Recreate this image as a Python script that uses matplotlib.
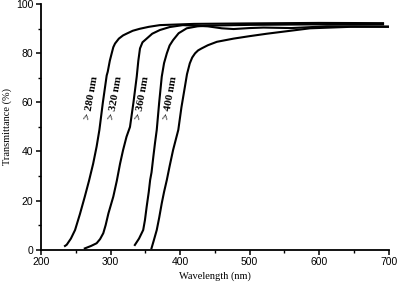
import numpy as np
import matplotlib
matplotlib.use("Agg")
import matplotlib.pyplot as plt
from matplotlib.ticker import MultipleLocator

# --- data (wavelength nm, transmittance %) ---
wl_280 = [234.5, 237, 243, 249, 256, 263, 269, 275, 280, 284, 289, 294.5, 296, 299, 301.7, 304, 306.5, 312, 318, 323, 332, 342, 355, 371, 420, 500, 600, 692]
t_280 = [1.5, 2.0, 4.5, 8.0, 14.5, 21.6, 28.0, 35.0, 42.0, 48.8, 60.0, 71.0, 72.5, 77.0, 80.0, 82.5, 84.0, 86.0, 87.3, 88.0, 89.2, 90.0, 90.8, 91.5, 92.0, 92.2, 92.4, 92.3]

wl_320 = [263, 272, 280, 285, 289.6, 293, 297, 304, 309, 313.7, 318, 323, 328, 333, 337.7, 340, 342.4, 346, 352, 360, 371, 385, 404, 440, 460, 477, 500, 520, 560, 611, 650, 700]
t_320 = [0.5, 1.5, 2.6, 4.3, 6.7, 10.0, 14.8, 21.6, 28.0, 35.0, 40.5, 46.0, 50.0, 60.0, 70.5, 77.0, 82.0, 84.5, 86.0, 88.0, 89.5, 90.7, 91.5, 91.0, 90.2, 89.9, 90.3, 90.5, 90.3, 91.0, 91.0, 90.9]

wl_360 = [335, 341, 347, 349.5, 352, 355, 357, 359, 361.6, 364, 366.5, 370, 373.7, 377, 381, 385, 390, 398, 409.6, 425, 440, 500, 600, 692]
t_360 = [1.9, 4.5, 8.0, 12.0, 17.5, 23.5, 28.4, 31.5, 37.9, 43.5, 48.8, 60.0, 70.5, 76.0, 80.0, 83.2, 85.4, 88.2, 90.2, 91.0, 91.3, 91.6, 91.8, 91.8]

wl_400 = [359, 362, 366.5, 370, 373.7, 377, 381, 385, 390, 397.5, 402, 407, 410, 414, 417.5, 421.6, 426, 431, 440, 453, 477, 500, 525, 587, 645, 700]
t_400 = [0.6, 3.5, 8.0, 13.0, 18.9, 23.5, 28.4, 34.0, 40.6, 48.8, 58.0, 66.4, 71.5, 75.9, 78.3, 80.0, 81.2, 82.0, 83.3, 84.7, 86.0, 87.0, 88.0, 90.2, 90.8, 90.8]

labels = ["> 280 nm", "> 320 nm", "> 360 nm", "> 400 nm"]
label_x = [272, 307.6, 346, 386.3]
label_y = [62, 62, 62, 62]

# --- figure ---
fig = plt.figure(figsize=(4.0, 2.84), dpi=100)
ax = fig.add_axes([0.1025, 0.121, 0.869, 0.864])

for x, y in [(wl_280, t_280), (wl_320, t_320), (wl_360, t_360), (wl_400, t_400)]:
    ax.plot(x, y, color="black", linewidth=1.5, solid_joinstyle="round")

for lx, ly, txt in zip(label_x, label_y, labels):
    ax.text(lx, ly, txt, rotation=80, ha="center", va="center",
            fontsize=8, fontweight="bold", family="Liberation Serif")

ax.set_xlim(200, 700)
ax.set_ylim(0, 100)
ax.xaxis.set_major_locator(MultipleLocator(100))
ax.xaxis.set_minor_locator(MultipleLocator(50))
ax.yaxis.set_major_locator(MultipleLocator(20))
ax.yaxis.set_minor_locator(MultipleLocator(10))

for side in ("top", "right"):
    ax.spines[side].set_visible(False)
for side in ("left", "bottom"):
    ax.spines[side].set_linewidth(1.3)

ax.tick_params(which="major", direction="out", length=3.5, width=1.1,
               labelsize=7.5, pad=2)
ax.tick_params(which="minor", direction="out", length=2, width=1.0)
for lbl in ax.get_xticklabels() + ax.get_yticklabels():
    lbl.set_family("Liberation Sans")

ax.set_xlabel("Wavelength (nm)", family="Liberation Serif", fontsize=7.5, labelpad=3)
ax.set_ylabel("Transmittance (%)", family="Liberation Serif", fontsize=7.5, labelpad=3)

fig.savefig("out.png", dpi=100)
